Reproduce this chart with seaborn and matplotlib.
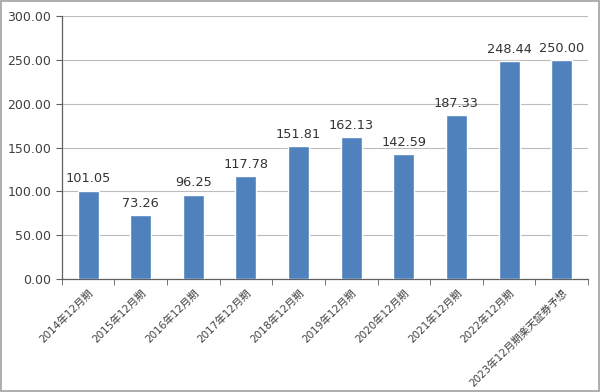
import numpy as np
import pandas as pd
import matplotlib
matplotlib.use('Agg')
import matplotlib.pyplot as plt
import seaborn as sns

# data
periods = ['2014年12月期', '2015年12月期', '2016年12月期', '2017年12月期', '2018年12月期',
           '2019年12月期', '2020年12月期', '2021年12月期', '2022年12月期', '2023年12月期楽天証券予想']
values = [101.05, 73.26, 96.25, 117.78, 151.81, 162.13, 142.59, 187.33, 248.44, 250.00]
y_ticks = [0, 50, 100, 150, 200, 250, 300]

sns.set_style('white')
plt.rcParams['font.family'] = ['DejaVu Sans', 'Noto Sans CJK JP']

data = pd.DataFrame({'period': periods, 'value': values})

fig = plt.figure(figsize=(6, 3.92), dpi=100)
ax = fig.add_axes([0.103, 0.288, 0.877, 0.671])

sns.barplot(data=data, x='period', y='value', color='#4f81bd', width=0.4,
            saturation=1, ax=ax, zorder=3)

# value labels above bars
for i, v in enumerate(values):
    ax.text(i, v + 6, f'{v:.2f}', ha='center', va='bottom', fontsize=9.3, color='#333333')

ax.set_ylim(0, 300)
ax.set_yticks(y_ticks)
ax.set_yticklabels([f'{t:.2f}' for t in y_ticks], fontsize=9, color='#404040')
ax.yaxis.grid(True, color='#bcbcbc', linewidth=0.8, zorder=0)
ax.set_xlim(-0.5, len(periods) - 0.5)

ax.set_xticks(range(len(periods)))
ax.set_xticklabels(periods, rotation=45, ha='right', rotation_mode='anchor',
                   fontsize=7.5, color='#404040', family=['DejaVu Sans', 'Noto Sans CJK JP'])
ax.set_xticks(np.arange(-0.5, len(periods)), minor=True)
ax.tick_params(axis='x', which='major', length=0, pad=6)
ax.tick_params(axis='x', which='minor', length=4, color='#606060', direction='out', bottom=True)
ax.tick_params(axis='y', length=4, color='#606060', direction='out', left=True)

ax.set_xlabel('')
ax.set_ylabel('')
for s in ['top', 'right']:
    ax.spines[s].set_visible(False)
for s in ['left', 'bottom']:
    ax.spines[s].set_color('#606060')
    ax.spines[s].set_linewidth(0.9)

# outer border of the chart area
fig.patches.append(plt.Rectangle((0.002, 0.002), 0.996, 0.996, transform=fig.transFigure,
                                 fill=False, edgecolor='#a0a0a0', linewidth=1.2))

fig.savefig('out.png', dpi=100)
